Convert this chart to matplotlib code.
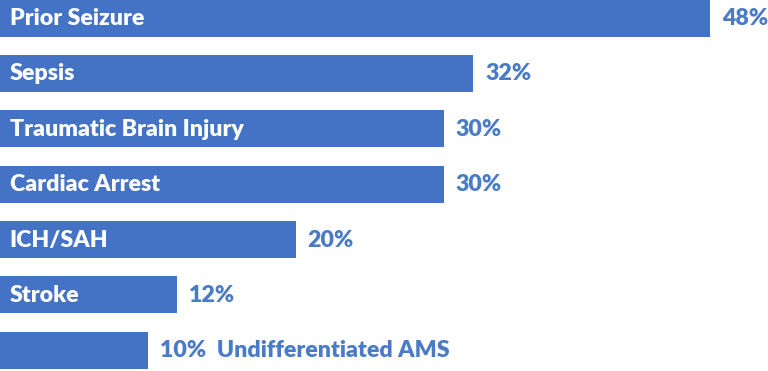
import matplotlib.pyplot as plt
import numpy as np

### DATA ###
categories = ['Prior Seizure', 'Sepsis', 'Traumatic Brain Injury', 'Cardiac Arrest',
              'ICH/SAH', 'Stroke', 'Undifferentiated AMS']
percent = [48, 32, 30, 30, 20, 12, 10]
inside = [True, True, True, True, True, True, False]  # last label sits outside the bar

bar_color = '#4472C4'
text_blue = '#4A7BC6'

plt.rcParams['font.family'] = ['Lato', 'DejaVu Sans']

fig = plt.figure(figsize=(7.68, 3.71), dpi=100)
ax = fig.add_axes([0, 0, 1, 1])

y = np.arange(len(categories))
ax.barh(y, percent, height=0.668, color=bar_color, left=0)

fs = 16.7
for i, (name, val) in enumerate(zip(categories, percent)):
    if inside[i]:
        ax.text(0.65, i + 0.01, name, color='white', fontsize=fs, fontweight='heavy',
                va='center', ha='left')
        ax.text(val + 0.8, i + 0.01, f'{val}%', color=text_blue, fontsize=fs,
                fontweight='heavy', va='center', ha='left')
    else:
        ax.text(val + 0.8, i + 0.01, f'{val}%  {name}', color=text_blue, fontsize=fs,
                fontweight='heavy', va='center', ha='left')

ax.set_xlim(0, 51.93)
ax.set_ylim(6.372, -0.325)
ax.axis('off')

fig.savefig('out.png', dpi=100)
